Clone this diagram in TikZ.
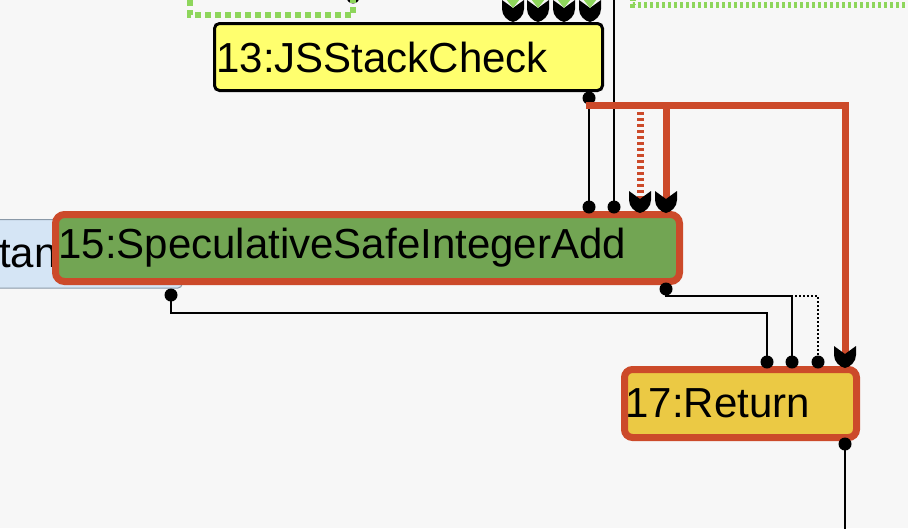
\documentclass[tikz,border=0pt]{standalone}
\usepackage{fontspec}
\setmainfont{Liberation Sans}
\definecolor{bgc}{HTML}{F7F7F7}
\definecolor{redE}{HTML}{CC4A2A}
\definecolor{greenE}{HTML}{8ED65C}
\definecolor{yelA}{HTML}{FFFF6E}
\definecolor{grnB}{HTML}{72A553}
\definecolor{yelC}{HTML}{EBC944}
\definecolor{blueN}{HTML}{D5E5F5}
\definecolor{blueB}{HTML}{8A99A8}
\begin{document}
\begin{tikzpicture}[x=1pt,y=-1pt,
  box/.style={rectangle, outer sep=0pt, anchor=north west, inner ysep=0pt,
    align=left, font=\fontsize{42}{50}\selectfont},
  thinE/.style={line width=2pt, black},
  redT/.style={line width=7pt, redE},
  redD/.style={line width=7pt, redE, dash pattern=on 3pt off 3pt},
  greenD/.style={line width=6pt, greenE, dash pattern=on 3pt off 3pt},
  greenW/.style={line width=6pt, greenE, dash pattern=on 6pt off 4pt},
  port/.style={circle, fill=black, inner sep=0pt, minimum size=13pt, outer sep=0pt},
  arrhd/.pic={\fill[black] (-11,-22) -- (0,-14) -- (11,-22) -- (11,-13)
     .. controls (11,-6) and (5,-1) .. (0,0)
     .. controls (-5,-1) and (-11,-6) .. (-11,-13) -- cycle;},
  gtri/.pic={\fill[greenE] (-7,-23) -- (7,-23) -- (0,-14) -- cycle;}
]
\useasboundingbox (0,0) rectangle (908,528);
\fill[bgc] (0,0) rectangle (908,528);
\clip (0,0) rectangle (908,528);

% nodes
\node[box, fill=blueN, draw=blueB, line width=1pt, rounded corners=4pt,
  minimum width=192pt, minimum height=68.5pt, inner xsep=9pt, text width=174pt]
  (nb) at (-10,219.5) {tan};
\node[box, fill=yelA, draw=black, line width=3pt, rounded corners=5pt,
  minimum width=388pt, minimum height=67pt, inner xsep=2pt, text width=384pt]
  (n13) at (214.5,23.5) {13:JSStackCheck};
\node[box, fill=grnB, draw=redE, line width=7pt, rounded corners=9pt,
  minimum width=624pt, minimum height=67pt, inner xsep=3pt, text width=618pt]
  (n15) at (55.5,214.5) {15:SpeculativeSafeIntegerAdd};
\node[box, fill=yelC, draw=redE, line width=7pt, rounded corners=8pt,
  minimum width=232pt, minimum height=68pt, inner xsep=1pt, text width=230pt]
  (n17) at (624.5,369.5) {17:Return};

% ports
\node[port] (ptl) at (353,-3) {};
\node[port] (p13o) at (589,98) {};
\node[port] (p15a) at (589,207) {};
\node[port] (p15b) at (614,207) {};
\node[port] (pbo) at (171,295) {};
\node[port] (p15o) at (666,289) {};
\node[port] (p17a) at (767,362) {};
\node[port] (p17b) at (792,362) {};
\node[port] (p17c) at (818,362) {};
\node[port] (p17o) at (845,444) {};

% free ends and junctions
\coordinate (tin1) at (190,-8);
\coordinate (tin2) at (633,-8);
\coordinate (tend2) at (915,5);
\coordinate (topin) at (614,-8);
\coordinate (r0) at (586,105.5);
\coordinate (a15c) at (640,213);
\coordinate (a15d) at (666,213);
\coordinate (a17d) at (845,368);
\coordinate (bot) at (845,540);

% green edges at top
\draw[greenW] (ptl.center) -- (353,15) -- (190,15) -- (tin1);
\draw[greenD] (tin2) -- (633,5) -- (tend2);

% edges 13 -> 15
\draw[thinE] (p13o.center) -- (p15a.center);
\draw[thinE] (topin) -- (p15b.center);
\draw[redD] (640,106) -- ([yshift=14pt]a15c);
\draw[redT] (r0) -| ([yshift=14pt]a15d);
\draw[redT] (r0) -| ([yshift=14pt]a17d);

% edges to 17
\draw[thinE] (pbo.center) -- ++(0,18) -| (p17a.center);
\draw[thinE, dash pattern=on 2pt off 2pt] (p15o.center) -- ++(0,7) -| (p17c.center);
\draw[thinE] (p15o.center) -- ++(0,7) -| (p17b.center);
\draw[thinE] (p17o.center) -- (bot);

% arrowheads
\pic at (a15c) {arrhd};
\pic at (a15d) {arrhd};
\pic at (a17d) {arrhd};
\foreach \xx/\nm in {513/t1,538/t2,564/t3,590/t4}{
  \coordinate (\nm) at (\xx,22);
  \pic at (\nm) {arrhd};
  \pic at (\nm) {gtri};
}
\end{tikzpicture}
\end{document}
